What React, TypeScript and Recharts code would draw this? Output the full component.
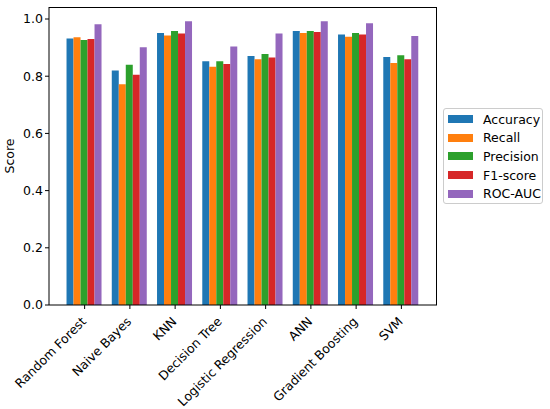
import React from "react";
import { BarChart, Bar, XAxis, YAxis } from "recharts";

const models = [
  "Random Forest",
  "Naive Bayes",
  "KNN",
  "Decision Tree",
  "Logistic Regression",
  "ANN",
  "Gradient Boosting",
  "SVM",
];

const accuracy = [0.932, 0.82, 0.951, 0.852, 0.871, 0.958, 0.946, 0.867];
const recall = [0.936, 0.772, 0.942, 0.833, 0.859, 0.951, 0.938, 0.846];
const precision = [0.927, 0.84, 0.958, 0.852, 0.878, 0.958, 0.951, 0.873];
const f1 = [0.93, 0.805, 0.949, 0.843, 0.865, 0.955, 0.946, 0.859];
const rocAuc = [0.982, 0.901, 0.992, 0.904, 0.949, 0.992, 0.985, 0.941];

const yTicks = [0, 0.2, 0.4, 0.6, 0.8, 1.0];

const SERIES = [
  { key: "accuracy", name: "Accuracy", color: "#1f77b4" },
  { key: "recall", name: "Recall", color: "#ff7f0e" },
  { key: "precision", name: "Precision", color: "#2ca02c" },
  { key: "f1", name: "F1-score", color: "#d62728" },
  { key: "roc", name: "ROC-AUC", color: "#9467bd" },
];

const data = models.map((model, i) => ({
  model,
  accuracy: accuracy[i],
  recall: recall[i],
  precision: precision[i],
  f1: f1[i],
  roc: rocAuc[i],
}));

const FONT = "DejaVu Sans, sans-serif";

function RotatedTick({ x, y, payload }: any) {
  return (
    <text
      transform={`translate(${x - 4},${y + 5}) rotate(-45)`}
      textAnchor="end"
      dy="0.71em"
      fontSize={12.5}
      fontFamily={FONT}
      fill="#000"
    >
      {payload.value}
    </text>
  );
}

export default function App() {
  return (
    <div style={{ position: "absolute", left: 0, top: 0, width: 550, height: 409, background: "#fff" }}>
      <BarChart
        width={550}
        height={409}
        data={data}
        margin={{ top: 7, right: 113, left: 0, bottom: 0 }}
        barCategoryGap="10%"
        barGap={0}
      >
        <XAxis
          dataKey="model"
          height={104}
          interval={0}
          padding={{ left: 13, right: 13 }}
          tick={<RotatedTick />}
          tickLine={{ stroke: "#000" }}
          tickSize={4}
          axisLine={{ stroke: "#000" }}
        />
        <YAxis
          width={49}
          domain={[0, 1.042]}
          ticks={yTicks}
          tickFormatter={(v: number) => v.toFixed(1)}
          tick={{ fill: "#000", fontSize: 12.5, fontFamily: FONT }}
          tickLine={{ stroke: "#000" }}
          tickSize={4}
          axisLine={{ stroke: "#000" }}
          label={{
            content: ({ viewBox }: any) => (
              <text
                transform={`translate(14,${viewBox.y + viewBox.height / 2}) rotate(-90)`}
                textAnchor="middle"
                fontSize={12.5}
                fontFamily={FONT}
                fill="#000"
              >
                Score
              </text>
            ),
          }}
        />
        {SERIES.map((s) => (
          <Bar key={s.key} dataKey={s.key} name={s.name} fill={s.color} isAnimationActive={false} />
        ))}
      </BarChart>
      {/* frame of the plot area (top and right spines) */}
      <div
        style={{
          position: "absolute",
          left: 49,
          top: 7,
          width: 388,
          height: 298,
          borderTop: "1px solid #000",
          borderRight: "1px solid #000",
          boxSizing: "border-box",
          pointerEvents: "none",
        }}
      />
      <div
        style={{
          position: "absolute",
          left: 443,
          top: 108,
          width: 100,
          height: 96,
          border: "1px solid #cccccc",
          borderRadius: 3,
          background: "#fff",
          boxSizing: "border-box",
          fontFamily: FONT,
          fontSize: 12.5,
          padding: "1px 0 0 4px",
        }}
      >
        {SERIES.map((s) => (
          <div key={s.key} style={{ display: "flex", alignItems: "center", height: 18.6 }}>
            <span style={{ display: "inline-block", width: 25, height: 8, background: s.color, marginRight: 10 }} />
            <span>{s.name}</span>
          </div>
        ))}
      </div>
    </div>
  );
}
